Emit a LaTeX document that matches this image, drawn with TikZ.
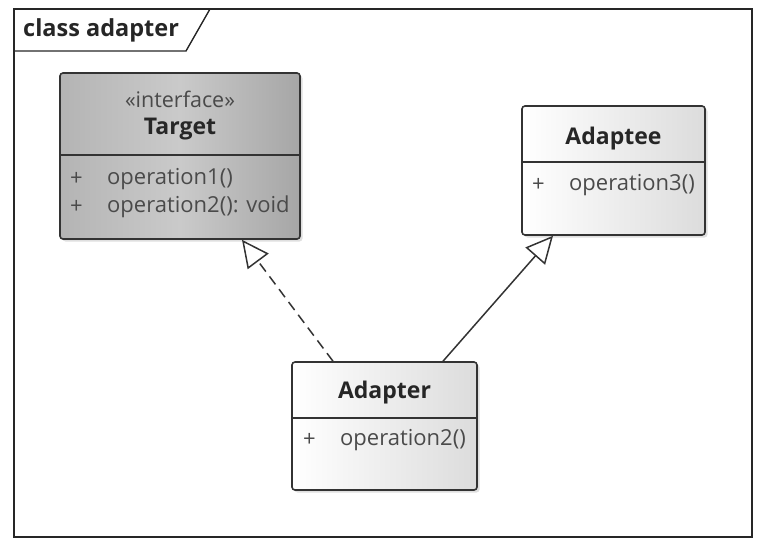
\documentclass[tikz,border=0pt]{standalone}
\usepackage{fontspec}
\setmainfont{Open Sans}
\usetikzlibrary{arrows.meta,shadows}
\definecolor{boxline}{HTML}{333333}
\definecolor{optext}{HTML}{4A4A4A}
\definecolor{tgL}{HTML}{B4B4B4}
\definecolor{tgM}{HTML}{CACACA}
\definecolor{tgR}{HTML}{A6A6A6}
\definecolor{wL}{HTML}{FFFFFF}
\definecolor{wR}{HTML}{DCDCDC}
\tikzset{
  classbox/.style={draw=boxline, line width=1.6pt, rounded corners=3pt, inner sep=0pt,
    drop shadow={opacity=0.25, shadow xshift=2.5pt, shadow yshift=-2.5pt}},
  whitebox/.style={classbox, left color=wL, right color=wR},
  graybox/.style={classbox, left color=tgL, right color=tgR, middle color=tgM},
  divider/.style={draw=boxline, line width=1.6pt},
  title/.style={font=\fontsize{23}{26}\selectfont\bfseries, text=black!85, inner sep=0pt},
  stereo/.style={font=\fontsize{21.5}{24}\selectfont, text=optext, inner sep=0pt},
  optxt/.style={font=\fontsize{22}{26}\selectfont, text=optext, inner sep=0pt, anchor=west},
  conn/.style={draw=black!80, line width=1.5pt},
  opentri/.tip={Triangle[open,fill=white,length=27pt,width=26pt,line width=1.5pt]},
  realize/.style={conn, dashed, dash pattern=on 10pt off 6pt, -opentri},
  inherit/.style={conn, -opentri},
}
\begin{document}
\begin{tikzpicture}[x=1pt,y=-1pt]
\useasboundingbox (0,0) rectangle (770,550);
% frame
\draw[line width=1.4pt, draw=black!85] (14,9) rectangle (752,537);
\draw[line width=1.4pt, draw=black!85] (14,51) -- (186,51) -- (210,9);
\node[title, anchor=west, font=\fontsize{23.5}{26}\selectfont\bfseries] (frametitle) at (23,30) {class adapter};

% Target
\node[graybox, minimum width=240pt, minimum height=166pt] (target) at (180,156) {};
\draw[divider] (target.west |- 0,155) -- (target.east |- 0,155);
\node[stereo] (tstereo) at (180,99) {«interface»};
\node[title] (tname) at (180,129) {Target};
\node[optxt] (tplus1) at (70,179) {+};
\node[optxt] (top1) at (107,179) {operation1()};
\node[optxt] (tplus2) at (70,207) {+};
\node[optxt] (top2) at (107,207) {operation2(): void};

% Adaptee
\node[whitebox, minimum width=183pt, minimum height=129pt] (adaptee) at (613.5,170.5) {};
\draw[divider] (adaptee.west |- 0,162) -- (adaptee.east |- 0,162);
\node[title] (aname) at (613.5,139) {Adaptee};
\node[optxt] (aplus) at (532,185) {+};
\node[optxt] (aop) at (569,185) {operation3()};

% Adapter
\node[whitebox, minimum width=185pt, minimum height=128pt] (adapter) at (384.5,426) {};
\draw[divider] (adapter.west |- 0,418) -- (adapter.east |- 0,418);
\node[title] (dname) at (384.5,393) {Adapter};
\node[optxt] (dplus) at (303,440) {+};
\node[optxt] (dop) at (340,440) {operation2()};

% connectors
\draw[realize] ([xshift=-51.5pt]adapter.north) -- ([xshift=62pt]target.south);
\draw[inherit] ([xshift=58.5pt]adapter.north) -- ([xshift=-60.5pt]adaptee.south);
\end{tikzpicture}
\end{document}
